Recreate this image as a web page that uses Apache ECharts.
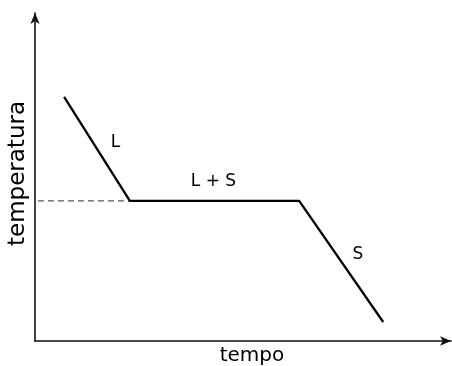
<!DOCTYPE html>
<html>
<head>
<meta charset="utf-8">
<script src="https://cdn.jsdelivr.net/npm/echarts@6/dist/echarts.min.js"></script>
<style>
html, body { margin: 0; padding: 0; background: #fff; }
#chart { width: 452px; height: 366px; }
</style>
</head>
<body>
<div id="chart"></div>
<script>
// curva di raffreddamento: tempo / temperatura (unità arbitrarie)
var tempo = [7, 22.8, 63.5, 83.7];
var temperatura = [74.4, 42.7, 42.7, 5.8];

// linea tratteggiata fino alla temperatura di solidificazione
var tempoTratt = [0.7, 22.8];
var tempTratt = [42.7, 42.7];

var fasi = ['L', 'L + S', 'S'];
var font = 'DejaVu Sans';

function pairs(xs, ys) {
    var out = [];
    for (var i = 0; i < xs.length; i++) {
        out.push([xs[i], ys[i]]);
    }
    return out;
}

function label(text, x, y, size, rot) {
    return {
        type: 'text', x: x, y: y, rotation: rot || 0,
        style: {
            text: text, fontSize: size, fontFamily: font, fill: '#000',
            align: 'center', verticalAlign: 'middle'
        }
    };
}

var chart = echarts.init(document.getElementById('chart'));

var axisLine = {
    show: true,
    symbol: ['none', 'arrow'],
    symbolSize: [7, 11],
    symbolOffset: [0, 0],
    lineStyle: { color: '#111', width: 1.6 }
};

option = {
    animation: false,
    backgroundColor: '#fff',
    grid: { left: 35, right: 1, top: 13, bottom: 25 },
    xAxis: {
        type: 'value',
        min: 0,
        max: 100,
        axisLine: axisLine,
        axisTick: { show: false },
        axisLabel: { show: false },
        splitLine: { show: false }
    },
    yAxis: {
        type: 'value',
        min: 0,
        max: 100,
        axisLine: axisLine,
        axisTick: { show: false },
        axisLabel: { show: false },
        splitLine: { show: false }
    },
    series: [{
        type: 'line',
        data: pairs(tempoTratt, tempTratt),
        symbol: 'none',
        lineStyle: { color: '#555', width: 1.2, type: [6, 4] },
        z: 1
    }, {
        type: 'line',
        data: pairs(tempo, temperatura),
        symbol: 'none',
        lineStyle: { color: '#000', width: 2.3 },
        z: 2
    }],
    graphic: [
        label(fasi[0], 115.5, 143, 17),
        label(fasi[1], 213.5, 182, 17),
        label(fasi[2], 358, 254.5, 17),
        label('tempo', 252, 356, 20),
        label('temperatura', 18, 173.5, 23, Math.PI / 2)
    ]
};

chart.setOption(option);
</script>
</body>
</html>
